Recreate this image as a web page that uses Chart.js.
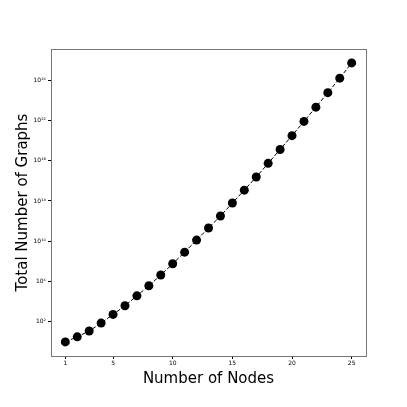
<!DOCTYPE html>
<html>
<head>
<meta charset="utf-8">
<script src="https://cdn.jsdelivr.net/npm/chart.js@4.4.1/dist/chart.umd.min.js"></script>
<style>
  html, body { margin: 0; padding: 0; background: #fff; }
  #c { display: block; }
</style>
</head>
<body>
<canvas id="c" width="407" height="407"></canvas>
<script>
// number of nodes
const nodes = [1, 2, 3, 4, 5, 6, 7, 8, 9, 10, 11, 12, 13, 14, 15, 16, 17, 18, 19, 20, 21, 22, 23, 24, 25];
// total number of graphs
const totalGraphs = [
    1, 3.2, 12, 74, 540, 3.9e3, 3.8e4, 3.8e5, 4.4e6, 5.8e7,
    8.3e8, 1.3e10, 2.1e11, 3.2e12, 6.3e13, 1.2e15, 2.4e16, 5.5e17, 1.3e19, 3.1e20,
    8.1e21, 2.1e23, 5.8e24, 1.6e26, 5.2e27
];
const xTicks = [1, 5, 10, 15, 20, 25];
const yTickExps = [2, 6, 10, 14, 18, 22, 26];

const sup = { '0': '⁰', '1': '¹', '2': '²', '3': '³', '4': '⁴', '5': '⁵', '6': '⁶', '7': '⁷', '8': '⁸', '9': '⁹' };
function powLabel(e) {
    return '10' + String(e).split('').map(d => sup[d]).join('');
}

// frame around the plot area
const frame = {
    id: 'frame',
    afterDraw(chart) {
        const a = chart.chartArea;
        const ctx = chart.ctx;
        ctx.save();
        ctx.strokeStyle = '#777';
        ctx.lineWidth = 1;
        ctx.strokeRect(a.left + 0.5, a.top + 0.5, a.right - a.left, a.bottom - a.top);
        ctx.restore();
    }
};

Chart.defaults.font.family = "'DejaVu Sans', sans-serif";
Chart.defaults.color = '#000';

new Chart(document.getElementById('c'), {
    type: 'line',
    data: {
        datasets: [{
            data: nodes.map((n, i) => ({ x: n, y: totalGraphs[i] })),
            borderColor: '#000',
            borderWidth: 1,
            borderDash: [4, 2],
            backgroundColor: '#000',
            pointRadius: 4.5,
            pointBorderWidth: 0,
            tension: 0
        }]
    },
    options: {
        responsive: false,
        animation: false,
        layout: { padding: { top: 49, right: 41, bottom: 17, left: 12 } },
        plugins: { legend: { display: false }, tooltip: { enabled: false } },
        scales: {
            x: {
                type: 'linear',
                min: -0.2,
                max: 26.2,
                afterBuildTicks: s => { s.ticks = xTicks.map(v => ({ value: v })); },
                afterFit: s => { s.height = 34; },
                ticks: { font: { size: 6 }, padding: 1, maxRotation: 0, callback: v => String(v) },
                grid: { drawOnChartArea: false, drawTicks: true, tickLength: 3, color: '#000' },
                border: { display: false },
                title: { display: true, text: 'Number of Nodes', font: { size: 15 }, padding: { top: 0, bottom: 2 } }
            },
            y: {
                type: 'logarithmic',
                min: Math.pow(10, -1.4),
                max: Math.pow(10, 29.1),
                afterBuildTicks: s => { s.ticks = yTickExps.map(e => ({ value: Math.pow(10, e) })); },
                afterFit: s => { s.width = 39; },
                ticks: {
                    font: { size: 6 },
                    padding: 2,
                    callback: v => powLabel(Math.round(Math.log10(v)))
                },
                grid: { drawOnChartArea: false, drawTicks: true, tickLength: 3, color: '#000' },
                border: { display: false },
                title: { display: true, text: 'Total Number of Graphs', font: { size: 15 }, padding: { top: 2, bottom: 0 } }
            }
        }
    },
    plugins: [frame]
});
</script>
</body>
</html>
